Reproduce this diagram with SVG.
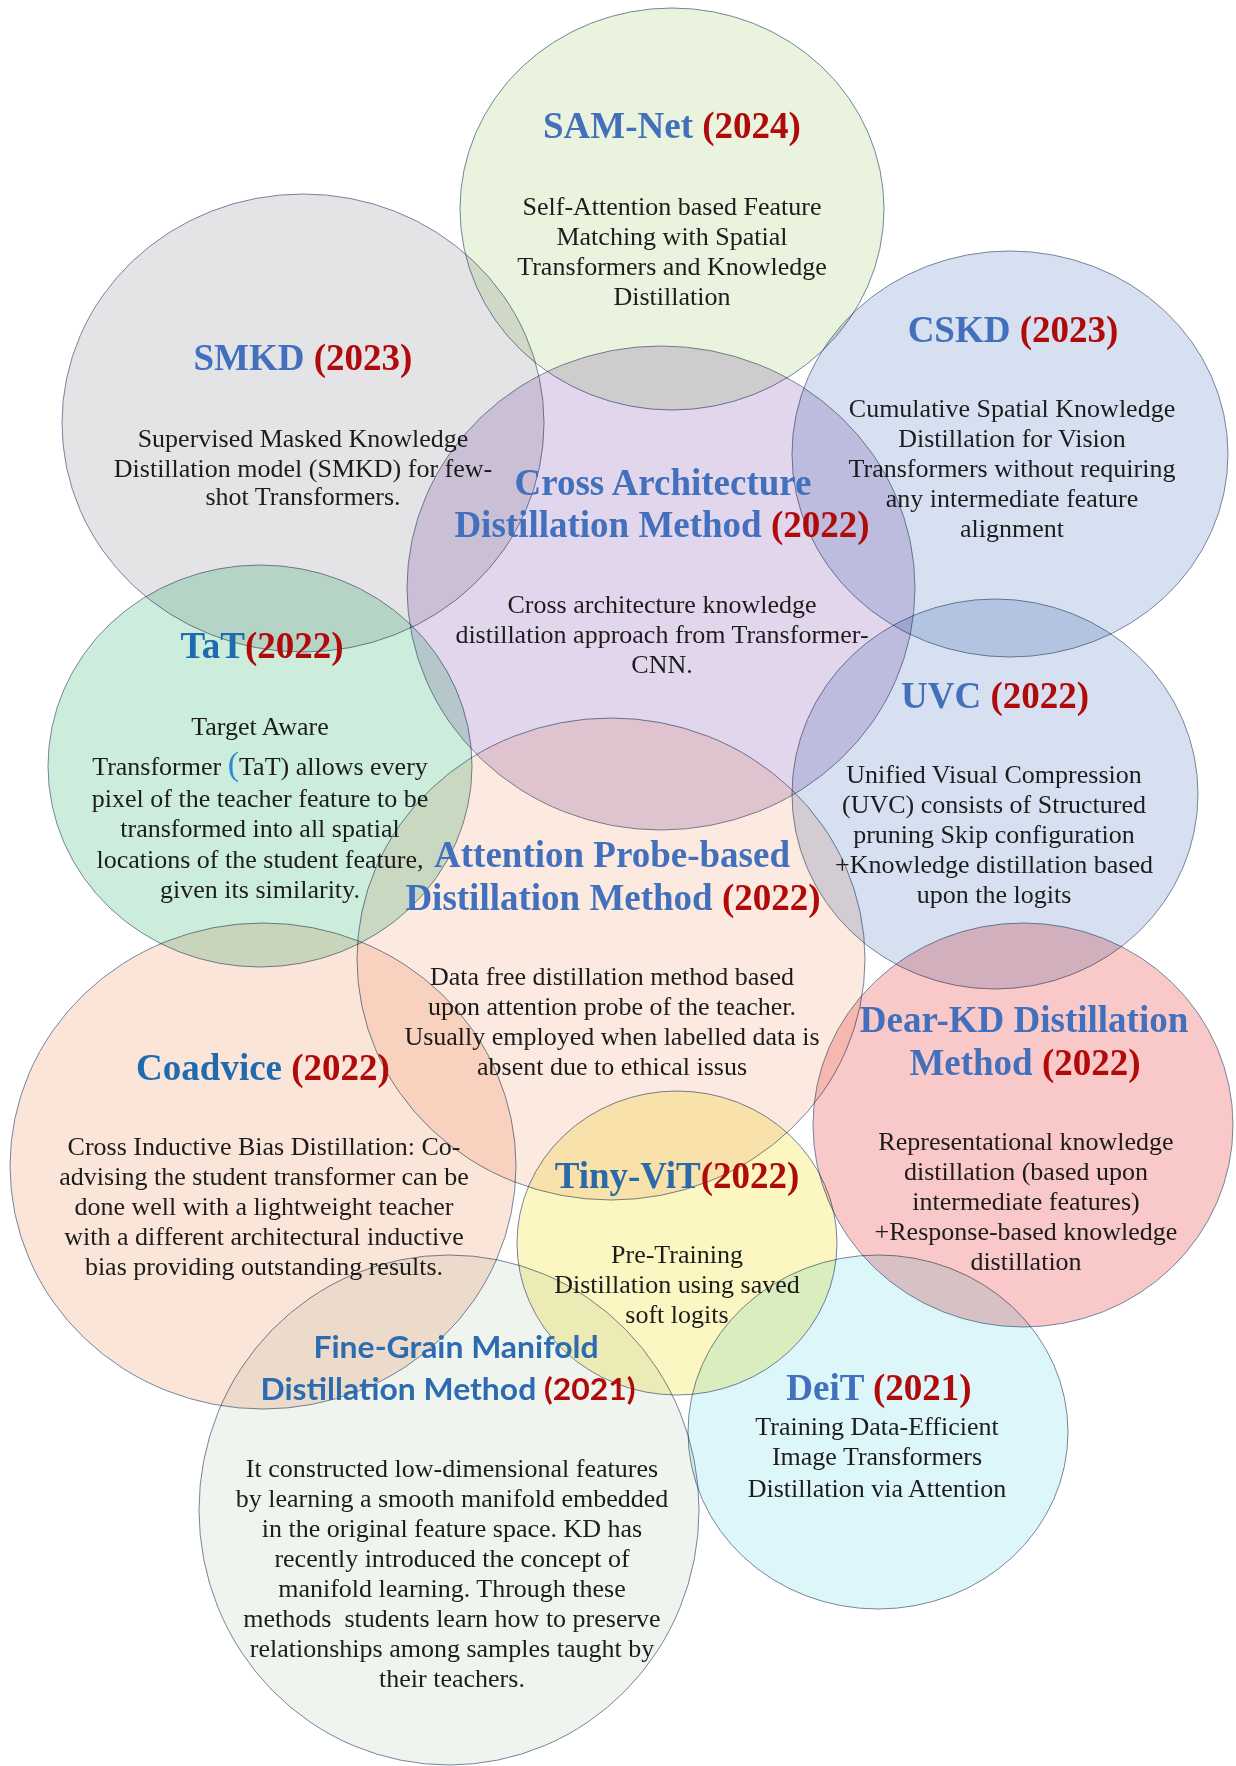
<svg xmlns="http://www.w3.org/2000/svg" width="1236" height="1766" viewBox="0 0 1236 1766">
<style>
.c{stroke:#76849a;stroke-width:1;mix-blend-mode:multiply}
.t{font-family:"Liberation Serif","Times New Roman",serif;font-weight:bold;font-size:37px;text-anchor:middle}
.b{fill:#4270bc}
.b2{fill:#1e6bb0}
.r{fill:#b00a0a}
.d{font-family:"Liberation Serif","Times New Roman",serif;font-size:26px;fill:#1c1c1c;text-anchor:middle}
.s{font-family:Lato,"Open Sans",sans-serif;font-weight:bold;font-size:30px;text-anchor:middle}
</style>
<rect width="1236" height="1766" fill="#ffffff"/>

<g id="sam-net">
<ellipse class="c" cx="672" cy="209" rx="212" ry="201" fill="#e9f3dd"/>
<text class="t" x="672" y="138"><tspan class="b">SAM-Net </tspan><tspan class="r">(2024)</tspan></text>
<text class="d" x="672" y="215">Self-Attention based Feature</text>
<text class="d" x="672" y="245">Matching with Spatial</text>
<text class="d" x="672" y="275">Transformers and Knowledge</text>
<text class="d" x="672" y="305">Distillation</text>
</g>

<g id="smkd">
<ellipse class="c" cx="303" cy="423" rx="241" ry="229" fill="#e4e4e6"/>
<text class="t" x="303" y="370"><tspan class="b">SMKD </tspan><tspan class="r">(2023)</tspan></text>
<text class="d" x="303" y="447">Supervised Masked Knowledge</text>
<text class="d" x="303" y="477">Distillation model (SMKD) for few-</text>
<text class="d" x="303" y="505">shot Transformers.</text>
</g>

<g id="cskd">
<ellipse class="c" cx="1010" cy="454" rx="218" ry="203" fill="#d6e0f1"/>
<text class="t" x="1013" y="342"><tspan class="b">CSKD </tspan><tspan class="r">(2023)</tspan></text>
<text class="d" x="1012" y="417">Cumulative Spatial Knowledge</text>
<text class="d" x="1012" y="447">Distillation for Vision</text>
<text class="d" x="1012" y="477">Transformers without requiring</text>
<text class="d" x="1012" y="507">any intermediate feature</text>
<text class="d" x="1012" y="537">alignment</text>
</g>

<g id="cross-architecture">
<ellipse class="c" cx="661" cy="588" rx="254" ry="242" fill="#e2d6ec"/>
<text class="t" x="663" y="495"><tspan class="b">Cross Architecture</tspan></text>
<text class="t" x="662" y="537"><tspan class="b">Distillation Method </tspan><tspan class="r">(2022)</tspan></text>
<text class="d" x="662" y="613">Cross architecture knowledge</text>
<text class="d" x="662" y="643">distillation approach from Transformer-</text>
<text class="d" x="662" y="673">CNN.</text>
</g>

<g id="tat">
<ellipse class="c" cx="260" cy="766" rx="212" ry="201" fill="#cceddc"/>
<text class="t" x="262" y="658"><tspan class="b2">TaT</tspan><tspan class="r">(2022)</tspan></text>
<text class="d" x="260" y="735">Target Aware</text>
<text class="d" x="260" y="775">Transformer <tspan fill="#2b8ad6" font-size="34">(</tspan>TaT) allows every</text>
<text class="d" x="260" y="807">pixel of the teacher feature to be</text>
<text class="d" x="260" y="837">transformed into all spatial</text>
<text class="d" x="260" y="868">locations of the student feature,</text>
<text class="d" x="260" y="898">given its similarity.</text>
</g>

<g id="uvc">
<ellipse class="c" cx="995" cy="794" rx="203" ry="195" fill="#d6e0f1"/>
<text class="t" x="995" y="708"><tspan class="b">UVC </tspan><tspan class="r">(2022)</tspan></text>
<text class="d" x="994" y="783">Unified Visual Compression</text>
<text class="d" x="994" y="813">(UVC) consists of Structured</text>
<text class="d" x="994" y="843">pruning Skip configuration</text>
<text class="d" x="994" y="873">+Knowledge distillation based</text>
<text class="d" x="994" y="903">upon the logits</text>
</g>

<g id="attention-probe">
<ellipse class="c" cx="611" cy="959" rx="254" ry="241" fill="#fceae0"/>
<text class="t" x="612" y="867"><tspan class="b">Attention Probe-based</tspan></text>
<text class="t" x="613" y="910"><tspan class="b">Distillation Method </tspan><tspan class="r">(2022)</tspan></text>
<text class="d" x="612" y="985">Data free distillation method based</text>
<text class="d" x="612" y="1015">upon attention probe of the teacher.</text>
<text class="d" x="612" y="1045">Usually employed when labelled data is</text>
<text class="d" x="612" y="1075">absent due to ethical issus</text>
</g>

<g id="coadvice">
<ellipse class="c" cx="263" cy="1166" rx="253" ry="243" fill="#fbe5d9"/>
<text class="t" x="263" y="1080"><tspan class="b2">Coadvice </tspan><tspan class="r">(2022)</tspan></text>
<text class="d" x="264" y="1155">Cross Inductive Bias Distillation: Co-</text>
<text class="d" x="264" y="1185">advising the student transformer can be</text>
<text class="d" x="264" y="1215">done well with a lightweight teacher</text>
<text class="d" x="264" y="1245">with a different architectural inductive</text>
<text class="d" x="264" y="1275">bias providing outstanding results.</text>
</g>

<g id="dear-kd">
<ellipse class="c" cx="1023" cy="1125" rx="210" ry="202" fill="#f9c8c8"/>
<text class="t" x="1024" y="1032"><tspan class="b">Dear-KD Distillation</tspan></text>
<text class="t" x="1025" y="1075"><tspan class="b">Method </tspan><tspan class="r">(2022)</tspan></text>
<text class="d" x="1026" y="1150">Representational knowledge</text>
<text class="d" x="1026" y="1180">distillation (based upon</text>
<text class="d" x="1026" y="1210">intermediate features)</text>
<text class="d" x="1026" y="1240">+Response-based knowledge</text>
<text class="d" x="1026" y="1270">distillation</text>
</g>

<g id="tiny-vit">
<ellipse class="c" cx="677" cy="1243" rx="160" ry="152" fill="#fbf6c2"/>
<text class="t" x="677" y="1188"><tspan fill="#2a6aa8">Tiny-ViT</tspan><tspan class="r">(2022)</tspan></text>
<text class="d" x="677" y="1263">Pre-Training</text>
<text class="d" x="677" y="1293">Distillation using saved</text>
<text class="d" x="677" y="1323">soft logits</text>
</g>

<g id="deit">
<ellipse class="c" cx="878" cy="1432" rx="190" ry="177" fill="#ddf6fa"/>
<text class="t" x="879" y="1400"><tspan class="b">DeiT </tspan><tspan class="r">(2021)</tspan></text>
<text class="d" x="877" y="1435">Training Data-Efficient</text>
<text class="d" x="877" y="1465">Image Transformers</text>
<text class="d" x="877" y="1497">Distillation via Attention</text>
</g>

<g id="fine-grain-manifold">
<ellipse class="c" cx="449" cy="1510" rx="250" ry="255" fill="#f0f4ef"/>
<text class="s" x="456" y="1358" textLength="285" lengthAdjust="spacingAndGlyphs"><tspan fill="#2c6bb0">Fine-Grain Manifold</tspan></text>
<text class="s" x="448" y="1400" textLength="375" lengthAdjust="spacingAndGlyphs"><tspan fill="#2c6bb0">Distillation Method </tspan><tspan class="r">(2021)</tspan></text>
<text class="d" x="452" y="1477">It constructed low-dimensional features</text>
<text class="d" x="452" y="1507">by learning a smooth manifold embedded</text>
<text class="d" x="452" y="1537">in the original feature space. KD has</text>
<text class="d" x="452" y="1567">recently introduced the concept of</text>
<text class="d" x="452" y="1597">manifold learning. Through these</text>
<text class="d" x="452" y="1627" xml:space="preserve">methods  students learn how to preserve</text>
<text class="d" x="452" y="1657">relationships among samples taught by</text>
<text class="d" x="452" y="1687">their teachers.</text>
</g>

<g id="connectors"/>
</svg>
